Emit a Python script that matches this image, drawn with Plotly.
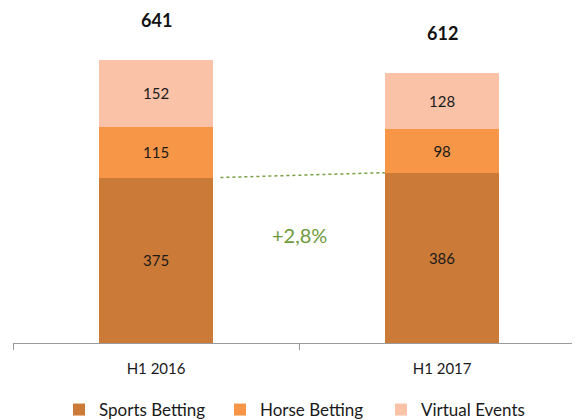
import plotly.graph_objects as go

categories = ["H1 2016", "H1 2017"]
sports_betting = [375, 386]
horse_betting = [115, 98]
virtual_events = [152, 128]
totals = [641, 612]
growth_label = "+2,8%"

colors = {"Sports Betting": "#CC7A38", "Horse Betting": "#F79646", "Virtual Events": "#FAC3A8"}
FONT = "Lato, Open Sans, sans-serif"

fig = go.Figure()
for name, vals in [("Sports Betting", sports_betting), ("Horse Betting", horse_betting), ("Virtual Events", virtual_events)]:
    fig.add_trace(go.Bar(
        x=categories, y=vals, name=name, marker_color=colors[name], width=0.4,
        text=[str(v) for v in vals], textposition="inside", insidetextanchor="middle",
        textfont=dict(color="#1a1a1a", size=15, family=FONT), marker_line_width=0,
    ))

stack_tops = [s + h + v for s, h, v in zip(sports_betting, horse_betting, virtual_events)]
for c, top, t in zip(categories, stack_tops, totals):
    fig.add_annotation(x=c, y=top, text=f"<b>{t}</b>", showarrow=False, yshift=40,
                       font=dict(size=18, color="#111111", family=FONT))

fig.add_shape(type="line", xref="x", yref="y", x0=0.225, x1=0.8,
              y0=sports_betting[0], y1=sports_betting[1],
              line=dict(color="#77A043", width=1.5, dash="dot"))
fig.add_annotation(x=0.5, y=(sports_betting[0] + sports_betting[1]) / 2, yshift=-60,
                   text=growth_label, showarrow=False,
                   font=dict(size=20, color="#6E9A3A", family=FONT))

fig.update_layout(
    barmode="stack", width=580, height=420, paper_bgcolor="white", plot_bgcolor="white",
    margin=dict(l=5, r=0, t=12, b=85, autoexpand=False),
    font=dict(family=FONT, size=15, color="#1a1a1a"),
    legend=dict(orientation="h", x=0.5, xanchor="center", xref="paper",
                y=0, yanchor="bottom", yref="container",
                font=dict(size=17), traceorder="normal", itemwidth=30,
                entrywidth=116, entrywidthmode="pixels"),
    xaxis=dict(range=[-0.5, 1.51], showline=True, linecolor="#999999", linewidth=1,
               ticks="outside", tickson="boundaries", ticklen=6, tickcolor="#999999",
               showgrid=False, tickfont=dict(size=15), ticklabelstandoff=12),
    yaxis=dict(range=[0, 732], visible=False, showgrid=False),
)
fig.write_html("out.html")
